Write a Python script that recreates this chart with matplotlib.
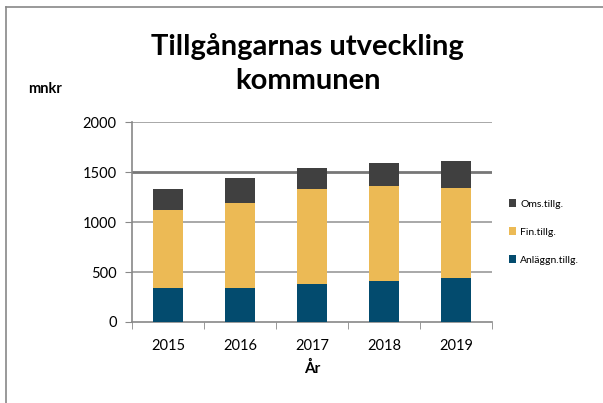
import matplotlib.pyplot as plt
import numpy as np
from matplotlib.lines import Line2D

plt.rcParams['font.family'] = ['Lato', 'DejaVu Sans']

years = ['2015', '2016', '2017', '2018', '2019']
anlaggn = [344, 344, 384, 415, 441]
fin = [776, 843, 946, 942, 903]
oms = [210, 257, 215, 231, 267]

c_anl = '#034b6e'
c_fin = '#ecba55'
c_oms = '#404040'

fig = plt.figure(figsize=(6.03, 4.03), dpi=100)
ax = fig.add_axes([0.219, 0.201, 0.597, 0.496])

x = np.arange(len(years))
w = 0.42
b1 = ax.bar(x, anlaggn, w, color=c_anl, label='Anläggn.tillg.', zorder=3)
b2 = ax.bar(x, fin, w, bottom=anlaggn, color=c_fin, label='Fin.tillg.', zorder=3)
bottom2 = np.array(anlaggn) + np.array(fin)
b3 = ax.bar(x, oms, w, bottom=bottom2, color=c_oms, label='Oms.tillg.', zorder=3)

ax.set_xlim(-0.5, 4.5)
ax.set_ylim(0, 2000)
ax.set_yticks([0, 500, 1000, 1500, 2000])
ax.set_xticks(x)
ax.set_xticklabels(years, fontsize=10.5)
ax.set_xticks(np.arange(-0.5, 5, 1), minor=True)
ax.tick_params(axis='x', which='major', length=0, pad=12)
ax.tick_params(axis='x', which='minor', length=5, color='#888888', direction='out')
ax.tick_params(axis='y', length=5, color='#888888', labelsize=10.5, pad=6)

for v in [500, 1000, 2000]:
    ax.axhline(v, color='#999999', lw=1.2, zorder=1)
ax.axhline(1500, color='#777777', lw=2.0, zorder=1)

for s in ['top', 'right']:
    ax.spines[s].set_visible(False)
ax.spines['left'].set_color('#888888')
ax.spines['bottom'].set_color('#888888')
ax.spines['left'].set_linewidth(1.2)
ax.spines['bottom'].set_linewidth(1.2)

ax.set_xlabel('År', fontsize=11, fontweight='bold', labelpad=6)

fig.text(0.51, 0.842, 'Tillgångarnas utveckling\nkommunen', ha='center', va='center',
         fontsize=21, fontweight='bold', linespacing=1.4)
fig.text(0.047, 0.78, 'mnkr', fontsize=10.5, fontweight='bold', ha='left', va='center')

ax.legend(handles=[b3, b2, b1], loc='center left', bbox_to_anchor=(1.0, 0.45),
          frameon=False, fontsize=7.5, handlelength=0.7, handleheight=0.7,
          labelspacing=1.8, handletextpad=0.4, borderaxespad=1.2)

fig.add_artist(Line2D([6 / 603, 1], [1 - 7 / 403, 1 - 7 / 403], color='#888888', lw=1.2))
fig.add_artist(Line2D([6 / 603, 6 / 603], [0, 1 - 7 / 403], color='#888888', lw=1.2))

fig.savefig('out.png', dpi=100)
